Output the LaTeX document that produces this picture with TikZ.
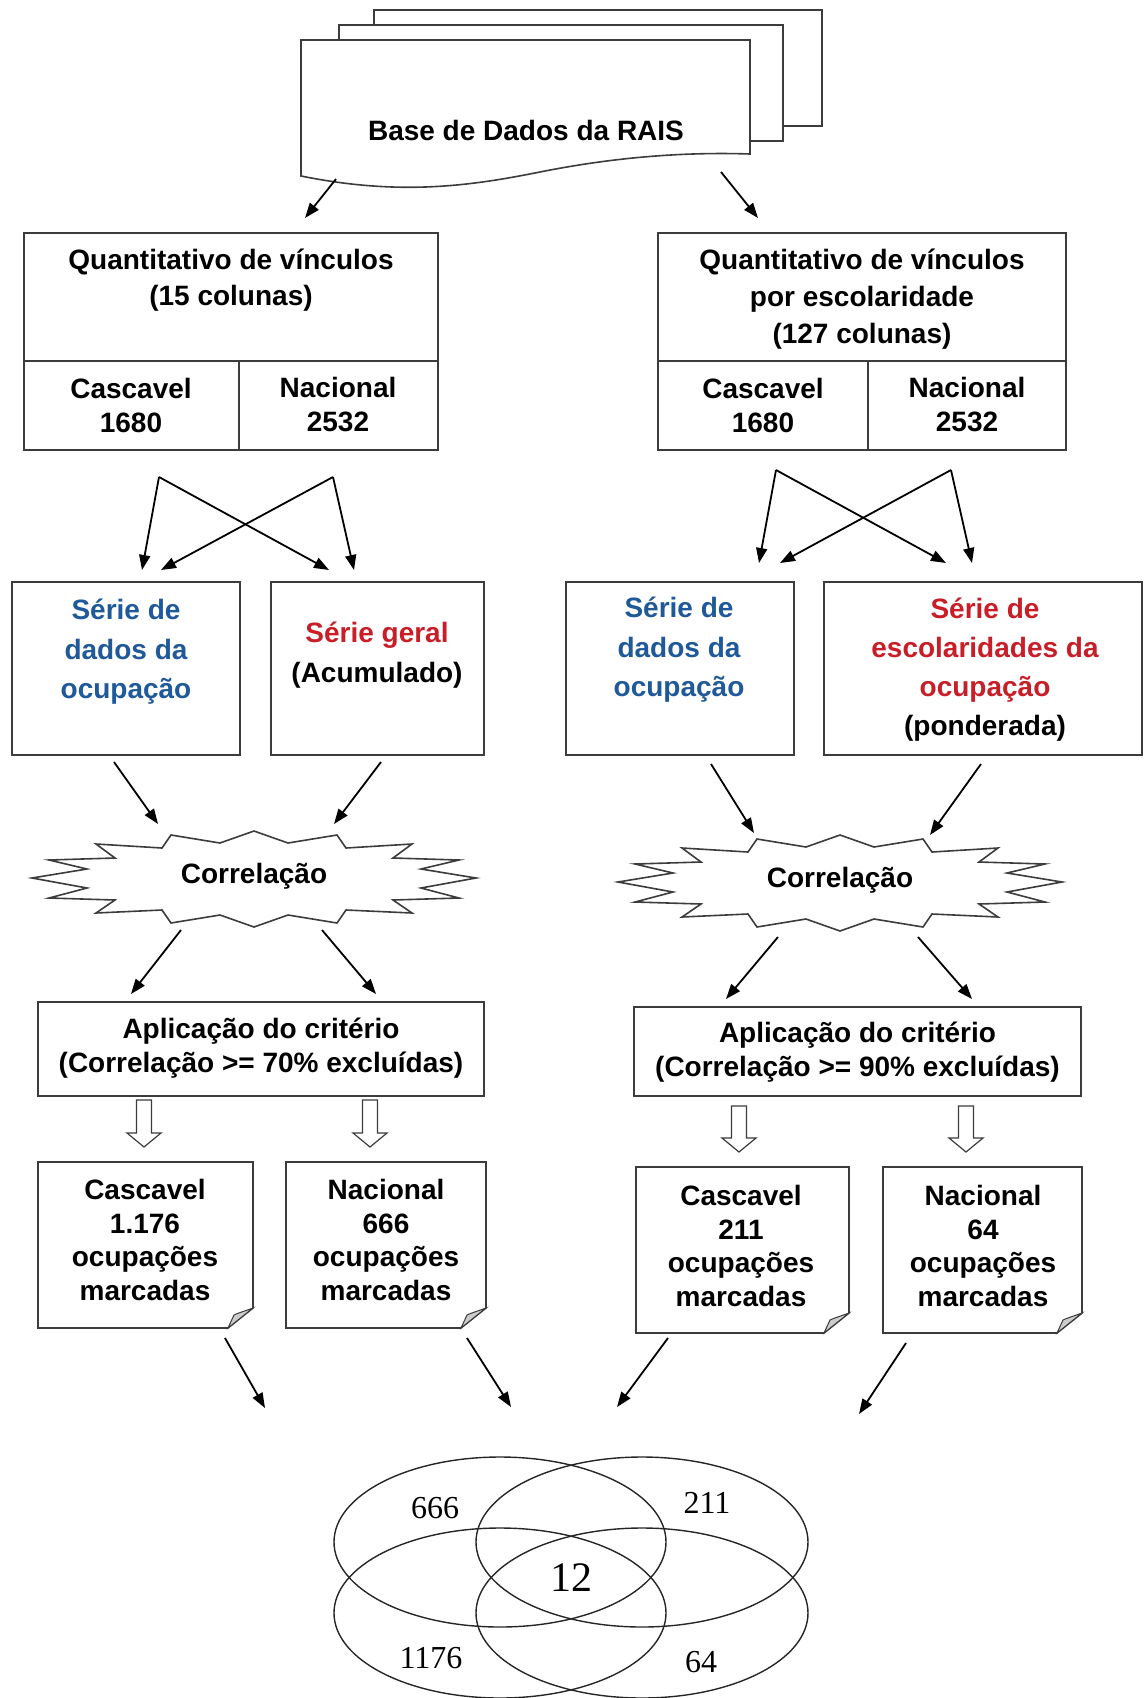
\documentclass[tikz,border=0pt]{standalone}
\usepackage{fontspec}
\setmainfont{Liberation Sans}
\newfontfamily\vennfont{Liberation Serif}
\usetikzlibrary{arrows.meta}

\definecolor{serieblue}{RGB}{31,89,153}
\definecolor{seriered}{RGB}{200,30,40}
\definecolor{boxline}{RGB}{60,60,60}

% downward hollow block arrow: centre x, top y, head start y, tip y
\newcommand\blockdown[4]{%
  \draw[hollow] ({#1-7.5},#2) -- ({#1+7.5},#2) -- ({#1+7.5},#3) -- ({#1+17},#3)
    -- (#1,#4) -- ({#1-17},#3) -- ({#1-7.5},#3) -- cycle;}
% note sheet with a folded lower-right corner: x0, y0, x1, y1
\newcommand\notebox[4]{%
  \draw[frame] (#1,#2) -- (#3,#2) -- (#3,{#4-20}) -- ({#3-25},#4) -- (#1,#4) -- cycle;
  \draw[flap] (#3,{#4-20}) .. controls ({#3-8},{#4-17}) and ({#3-15},{#4-15}) .. ({#3-19},{#4-13})
    -- ({#3-25},#4) -- cycle;}

\begin{document}
\begin{tikzpicture}[x=0.5pt,y=-0.5pt,
  frame/.style={draw=boxline,line width=0.8pt,fill=white},
  flap/.style={draw=boxline,line width=0.5pt,fill=gray!40},
  hollow/.style={draw=boxline,line width=0.6pt,fill=white},
  lbl/.style={font=\bfseries\fontsize{14}{#1}\selectfont,align=center,inner sep=0pt},
  lbl/.default=17,
  conn/.style={line width=0.9pt,-{Triangle[length=7.5pt,width=5.5pt]}},
  venn/.style={draw=black!85,line width=0.7pt},
  vnum/.style={font=\vennfont\fontsize{16}{16}\selectfont,inner sep=0pt},
  burstshape/.pic={
    \draw[frame] (0,-46) -- (34,-34) -- (83,-42) -- (92,-29) -- (158,-33) -- (139,-19)
      -- (205,-17) -- (167,-8) -- (222,1) -- (167,11) -- (205,21) -- (139,23) -- (158,36)
      -- (92,33) -- (83,46) -- (34,38) -- (0,50) -- (-34,38) -- (-83,46) -- (-92,33)
      -- (-158,36) -- (-139,23) -- (-205,21) -- (-167,11) -- (-222,1) -- (-167,-8)
      -- (-205,-17) -- (-139,-19) -- (-158,-33) -- (-92,-29) -- (-83,-42) -- (-34,-34) -- cycle;
  }]

\useasboundingbox (0,0) rectangle (1144,1698);

% ---------- stacked documents ----------
\draw[frame] (374,10) rectangle (822,126);
\draw[frame] (339,25) rectangle (783,141);
\draw[frame] (301,40) -- (750,40) -- (750,154)
  .. controls (690,152) and (620,156) .. (540,172)
  .. controls (470,186) and (400,196) .. (301,176) -- cycle;
\node[lbl] (rais) at (526,130) {Base de Dados da RAIS};

\coordinate (raisL) at (336,179);
\coordinate (raisR) at (721,172);
\coordinate (tabLin) at (305,218);
\coordinate (tabRin) at (758,218);
\draw[conn] (raisL) -- (tabLin);
\draw[conn] (raisR) -- (tabRin);

% ---------- tables ----------
\node[frame,minimum width=207pt,minimum height=108.5pt,inner sep=0pt] (tabL) at (231,341.5) {};
\draw[boxline,line width=0.8pt] (24,361) -- (438,361) (239,361) -- (239,450);
\node[lbl=18] (tabLhead) at (231,280) {Quantitativo de vínculos\\(15 colunas)};
\node[lbl] (tabLcas) at (131,405) {Cascavel\\1680};
\node[lbl] (tabLnac) at (338,405) {Nacional\\2532};

\node[frame,minimum width=204pt,minimum height=108.5pt,inner sep=0pt] (tabR) at (862,341.5) {};
\draw[boxline,line width=0.8pt] (658,361) -- (1066,361) (868,361) -- (868,450);
\node[lbl=18.5] (tabRhead) at (862,299) {Quantitativo de vínculos\\por escolaridade\\(127 colunas)};
\node[lbl] (tabRcas) at (763,405) {Cascavel\\1680};
\node[lbl] (tabRnac) at (967,405) {Nacional\\2532};

% ---------- crossing arrows ----------
\coordinate (xL1) at (159,477);  \coordinate (xL2) at (333,477);
\coordinate (tL1) at (142,570);  \coordinate (tL2) at (161,570);
\coordinate (tL3) at (329,570);  \coordinate (tL4) at (354,570);
\draw[conn] (xL1) -- (tL1);
\draw[conn] (xL1) -- (tL3);
\draw[conn] (xL2) -- (tL2);
\draw[conn] (xL2) -- (tL4);

\coordinate (xR1) at (776,470);  \coordinate (xR2) at (951,470);
\coordinate (tR1) at (759,563);  \coordinate (tR2) at (780,563);
\coordinate (tR3) at (946,563);  \coordinate (tR4) at (972,563);
\draw[conn] (xR1) -- (tR1);
\draw[conn] (xR1) -- (tR3);
\draw[conn] (xR2) -- (tR2);
\draw[conn] (xR2) -- (tR4);

% ---------- series boxes ----------
\node[frame,minimum width=114pt,minimum height=86.5pt,inner sep=0pt] (s1) at (126,668.5) {};
\node[lbl=19.8,text=serieblue] (s1t) at (126,652) {Série de\\dados da\\ocupação};
\node[frame,minimum width=106.5pt,minimum height=86.5pt,inner sep=0pt] (s2) at (377.5,668.5) {};
\node[lbl=19.8] (s2t) at (377,655) {{\color{seriered}Série geral}\\(Acumulado)};
\node[frame,minimum width=114pt,minimum height=86.5pt,inner sep=0pt] (s3) at (680,668.5) {};
\node[lbl=19.8,text=serieblue] (s3t) at (679,650) {Série de\\dados da\\ocupação};
\node[frame,minimum width=159pt,minimum height=86.5pt,inner sep=0pt] (s4) at (983,668.5) {};
\node[lbl=19.5] (s4t) at (985,669.5) {{\color{seriered}Série de}\\{\color{seriered}escolaridades da}\\{\color{seriered}ocupação}\\(ponderada)};

% ---------- correlation bursts ----------
\coordinate (s1out) at (114,762);  \coordinate (cLin1) at (158,824);
\coordinate (s2out) at (381,762);  \coordinate (cLin2) at (334,824);
\draw[conn] (s1out) -- (cLin1);
\draw[conn] (s2out) -- (cLin2);
\coordinate (s3out) at (711,764);  \coordinate (cRin1) at (754,833);
\coordinate (s4out) at (981,764);  \coordinate (cRin2) at (930,835);
\draw[conn] (s3out) -- (cRin1);
\draw[conn] (s4out) -- (cRin2);

\pic at (254,877) {burstshape};
\node[lbl] (corrL) at (254,876) {Correlação};
\pic at (840,881) {burstshape};
\node[lbl] (corrR) at (840,880) {Correlação};

\coordinate (cLo1) at (181,930);  \coordinate (apLi1) at (131,994);
\coordinate (cLo2) at (322,930);  \coordinate (apLi2) at (376,994);
\draw[conn] (cLo1) -- (apLi1);
\draw[conn] (cLo2) -- (apLi2);
\coordinate (cRo1) at (778,937);  \coordinate (apRi1) at (726,999);
\coordinate (cRo2) at (918,937);  \coordinate (apRi2) at (972,999);
\draw[conn] (cRo1) -- (apRi1);
\draw[conn] (cRo2) -- (apRi2);

% ---------- criterion boxes ----------
\node[frame,minimum width=223pt,minimum height=47pt,inner sep=0pt] (apL) at (261,1049) {};
\node[lbl] (apLt) at (261,1048) {Aplicação do critério\\(Correlação >= 70\% excluídas)};
\node[frame,minimum width=223.5pt,minimum height=44.5pt,inner sep=0pt] (apR) at (857.5,1051.5) {};
\node[lbl] (apRt) at (857.5,1052) {Aplicação do critério\\(Correlação >= 90\% excluídas)};

\blockdown{144}{1100}{1133}{1147}
\blockdown{370}{1100}{1133}{1147}
\blockdown{739}{1106}{1138}{1152}
\blockdown{966}{1106}{1138}{1152}

% ---------- marked occupations ----------
\notebox{38}{1162}{253}{1328}
\notebox{286}{1162}{486}{1328}
\notebox{636}{1167}{849}{1333}
\notebox{883}{1167}{1082}{1333}
\node[lbl=16.7] (r1t) at (145,1240) {Cascavel\\1.176\\ocupações\\marcadas};
\node[lbl=16.7] (r2t) at (386,1240) {Nacional\\666\\ocupações\\marcadas};
\node[lbl=16.7] (r3t) at (741,1246) {Cascavel\\211\\ocupações\\marcadas};
\node[lbl=16.7] (r4t) at (983,1246) {Nacional\\64\\ocupações\\marcadas};

\coordinate (r1o) at (225,1338);  \coordinate (v1i) at (265,1408);
\coordinate (r2o) at (467,1338);  \coordinate (v2i) at (511,1407);
\coordinate (r3o) at (668,1338);  \coordinate (v3i) at (617,1407);
\coordinate (r4o) at (906,1343);  \coordinate (v4i) at (859,1414);
\draw[conn] (r1o) -- (v1i);
\draw[conn] (r2o) -- (v2i);
\draw[conn] (r3o) -- (v3i);
\draw[conn] (r4o) -- (v4i);

% ---------- Venn diagram ----------
\draw[venn] (500,1542) ellipse [x radius=83pt,y radius=42.5pt];
\draw[venn] (642,1542) ellipse [x radius=83pt,y radius=42.5pt];
\draw[venn] (500,1613) ellipse [x radius=83pt,y radius=42.5pt];
\draw[venn] (642,1613) ellipse [x radius=83pt,y radius=42.5pt];
\node[vnum] (v666) at (435,1508) {666};
\node[vnum] (v211) at (707,1503) {211};
\node[vnum,font=\vennfont\fontsize{21}{21}\selectfont] (v12) at (571,1578) {12};
\node[vnum] (v1176) at (431,1658) {1176};
\node[vnum] (v64) at (701,1662) {64};

\end{tikzpicture}
\end{document}
